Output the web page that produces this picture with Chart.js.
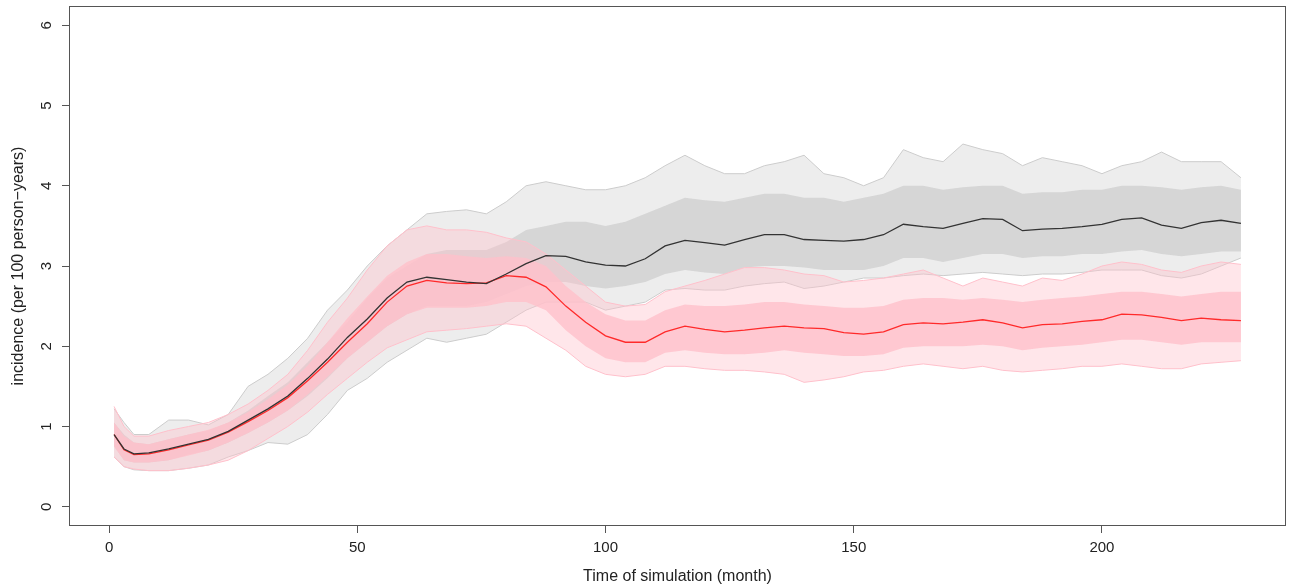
<!DOCTYPE html>
<html>
<head>
<meta charset="utf-8">
<script src="https://cdn.jsdelivr.net/npm/chart.js@4"></script>
<style>
  html, body { margin: 0; padding: 0; background: #fff; }
  #wrap { width: 1291px; height: 588px; }
</style>
</head>
<body>
<div id="wrap"><canvas id="incChart" width="1291" height="588"></canvas></div>
<script>
// months
const months = [1,3,5,8,12,16,20,24,28,32,36,40,44,48,52,56,60,64,68,72,76,80,84,88,92,96,100,104,108,112,116,120,124,128,132,136,140,144,148,152,156,160,164,168,172,176,180,184,188,192,196,200,204,208,212,216,220,224,228];

// mean curves
const blackMean = [0.90,0.72,0.66,0.67,0.72,0.78,0.84,0.94,1.08,1.22,1.38,1.60,1.84,2.11,2.34,2.60,2.80,2.86,2.83,2.80,2.78,2.90,3.03,3.13,3.12,3.05,3.01,3.00,3.09,3.25,3.32,3.29,3.26,3.33,3.39,3.39,3.33,3.32,3.31,3.33,3.39,3.52,3.49,3.47,3.53,3.59,3.58,3.44,3.46,3.47,3.49,3.52,3.58,3.60,3.51,3.47,3.54,3.57,3.53];
const redMean = [0.90,0.71,0.65,0.66,0.71,0.77,0.83,0.93,1.06,1.20,1.36,1.57,1.80,2.05,2.28,2.55,2.75,2.82,2.79,2.78,2.79,2.88,2.86,2.74,2.50,2.30,2.13,2.05,2.05,2.18,2.25,2.21,2.18,2.20,2.23,2.25,2.23,2.22,2.17,2.15,2.18,2.27,2.29,2.28,2.30,2.33,2.29,2.23,2.27,2.28,2.31,2.33,2.40,2.39,2.36,2.32,2.35,2.33,2.32];

// grey runs: outer envelope and dense core
const greyUpper = [1.22,1.05,0.90,0.90,1.08,1.08,1.02,1.15,1.50,1.65,1.85,2.10,2.45,2.70,3.00,3.25,3.45,3.65,3.68,3.70,3.65,3.80,4.00,4.05,4.00,3.95,3.95,4.00,4.10,4.25,4.38,4.25,4.15,4.15,4.25,4.30,4.38,4.15,4.10,4.00,4.10,4.45,4.35,4.30,4.52,4.45,4.40,4.25,4.35,4.30,4.25,4.15,4.25,4.30,4.42,4.30,4.30,4.30,4.10];
const greyCoreUpper = [1.05,0.90,0.80,0.78,0.84,0.90,0.95,1.05,1.20,1.38,1.55,1.80,2.05,2.30,2.60,2.85,3.00,3.15,3.20,3.20,3.20,3.30,3.45,3.50,3.55,3.55,3.50,3.55,3.65,3.75,3.85,3.82,3.80,3.85,3.90,3.90,3.85,3.85,3.80,3.85,3.90,4.00,4.00,3.95,3.98,4.00,4.00,3.90,3.92,3.92,3.95,3.95,4.00,4.00,3.98,3.95,3.98,4.00,3.95];
const greyCoreLower = [0.75,0.58,0.55,0.55,0.58,0.65,0.70,0.80,0.92,1.05,1.20,1.38,1.60,1.85,2.05,2.25,2.40,2.50,2.50,2.50,2.55,2.65,2.75,2.80,2.80,2.75,2.72,2.75,2.80,2.90,2.95,2.92,2.90,2.98,3.00,3.00,2.98,2.95,2.95,2.95,3.00,3.10,3.10,3.05,3.10,3.15,3.15,3.10,3.12,3.12,3.15,3.15,3.18,3.20,3.15,3.12,3.15,3.18,3.18];
const greyLower = [0.62,0.50,0.46,0.45,0.45,0.48,0.52,0.62,0.70,0.80,0.78,0.90,1.15,1.45,1.60,1.80,1.95,2.10,2.05,2.10,2.15,2.30,2.45,2.55,2.55,2.55,2.45,2.50,2.55,2.70,2.72,2.70,2.70,2.75,2.78,2.80,2.72,2.75,2.80,2.85,2.85,2.88,2.90,2.88,2.90,2.92,2.90,2.88,2.90,2.90,2.92,2.95,2.95,2.95,2.88,2.85,2.90,3.00,3.10];

// pink runs: outer envelope and dense core
const pinkUpper = [1.25,1.00,0.88,0.88,0.95,1.00,1.05,1.15,1.28,1.45,1.65,1.95,2.30,2.60,2.95,3.25,3.45,3.50,3.45,3.45,3.42,3.35,3.30,3.15,2.95,2.75,2.55,2.50,2.52,2.68,2.75,2.82,2.90,2.98,2.98,2.95,2.90,2.88,2.80,2.82,2.85,2.90,2.95,2.85,2.75,2.85,2.80,2.75,2.85,2.82,2.90,3.00,3.05,3.02,2.95,2.92,3.00,3.05,3.02];
const pinkCoreUpper = [1.05,0.88,0.80,0.78,0.84,0.90,0.96,1.05,1.18,1.34,1.52,1.76,2.05,2.35,2.62,2.88,3.05,3.15,3.15,3.12,3.10,3.12,3.10,3.00,2.75,2.55,2.40,2.32,2.32,2.45,2.52,2.50,2.50,2.52,2.55,2.55,2.52,2.50,2.48,2.48,2.50,2.58,2.60,2.60,2.58,2.60,2.58,2.55,2.58,2.60,2.62,2.65,2.68,2.68,2.65,2.62,2.65,2.68,2.68];
const pinkCoreLower = [0.75,0.58,0.55,0.55,0.58,0.64,0.70,0.80,0.92,1.05,1.20,1.40,1.62,1.85,2.05,2.25,2.40,2.48,2.48,2.48,2.50,2.55,2.55,2.45,2.20,2.00,1.85,1.80,1.80,1.92,1.95,1.92,1.90,1.90,1.92,1.95,1.92,1.90,1.88,1.88,1.90,1.98,2.00,2.00,2.00,2.02,2.00,1.95,1.98,2.00,2.02,2.05,2.08,2.08,2.05,2.02,2.05,2.05,2.05];
const pinkLower = [0.62,0.50,0.47,0.45,0.45,0.48,0.52,0.58,0.70,0.85,1.00,1.18,1.40,1.60,1.80,1.98,2.08,2.18,2.20,2.22,2.25,2.28,2.25,2.10,1.95,1.75,1.65,1.62,1.65,1.75,1.75,1.72,1.70,1.70,1.68,1.65,1.55,1.58,1.62,1.68,1.70,1.75,1.78,1.75,1.72,1.75,1.70,1.68,1.70,1.72,1.75,1.75,1.78,1.75,1.72,1.72,1.78,1.80,1.82];

const xTicks = [0, 50, 100, 150, 200];
const yTicks = [0, 1, 2, 3, 4, 5, 6];

const FONT = "'Liberation Sans', Arial, Helvetica, sans-serif";
const GREY = "rgb(204,204,204)";
const PINK = "rgb(255,192,203)";

function pts(ys) {
    return months.map((m, i) => ({ x: m, y: ys[i] }));
}

function band(ys, color, fillTo, fillColor, idx) {
    return {
        data: pts(ys),
        borderColor: color,
        borderWidth: 1,
        backgroundColor: fillColor || "transparent",
        fill: fillTo === undefined ? false : fillTo,
        pointRadius: 0,
        order: 20 - idx
    };
}

// box round the plot plus the rotated y tick labels (R style)
const rFrame = {
    id: "rFrame",
    afterDraw(chart) {
        const ctx = chart.ctx;
        const a = chart.chartArea;
        ctx.save();
        ctx.strokeStyle = "#555";
        ctx.lineWidth = 1;
        ctx.strokeRect(a.left + 0.5, a.top + 0.5, a.right - a.left - 1, a.bottom - a.top - 1);
        const ys = chart.scales.y;
        ctx.fillStyle = "#222";
        ctx.font = "15px " + FONT;
        ctx.textAlign = "center";
        ctx.textBaseline = "middle";
        yTicks.forEach(v => {
            ctx.save();
            ctx.translate(47, ys.getPixelForValue(v));
            ctx.rotate(-Math.PI / 2);
            ctx.fillText(String(v), 0, 0);
            ctx.restore();
        });
        ctx.restore();
    }
};

new Chart(document.getElementById("incChart"), {
    type: "line",
    data: {
        datasets: [
            band(greyUpper, GREY, 1, "rgba(204,204,204,0.35)", 0),
            band(greyLower, GREY, undefined, null, 1),
            band(greyCoreUpper, "rgba(204,204,204,0)", 3, "rgba(204,204,204,0.7)", 2),
            band(greyCoreLower, "rgba(204,204,204,0)", undefined, null, 3),
            band(pinkUpper, PINK, 5, "rgba(255,192,203,0.4)", 4),
            band(pinkLower, PINK, undefined, null, 5),
            band(pinkCoreUpper, "rgba(255,192,203,0)", 7, "rgba(255,192,203,0.8)", 6),
            band(pinkCoreLower, "rgba(255,192,203,0)", undefined, null, 7),
            {
                data: pts(redMean),
                borderColor: "#ff2a2a",
                borderWidth: 1.3,
                pointRadius: 0,
                fill: false,
                order: 2
            },
            {
                data: pts(blackMean),
                borderColor: "#333",
                borderWidth: 1.3,
                pointRadius: 0,
                fill: false,
                order: 1
            }
        ]
    },
    options: {
        responsive: false,
        animation: false,
        events: [],
        layout: { padding: { top: 6, right: 5, left: 0, bottom: 0 } },
        plugins: {
            legend: { display: false },
            tooltip: { enabled: false }
        },
        scales: {
            x: {
                type: "linear",
                min: -8.08,
                max: 237.08,
                afterBuildTicks: s => { s.ticks = xTicks.map(v => ({ value: v })); },
                afterFit: s => { s.height = 62; },
                border: { display: false },
                grid: {
                    drawOnChartArea: false,
                    drawTicks: true,
                    tickLength: 7,
                    color: "#555"
                },
                ticks: {
                    color: "#222",
                    font: { family: FONT, size: 15 },
                    padding: 6,
                    maxRotation: 0
                },
                title: {
                    display: true,
                    text: "Time of simulation (month)",
                    color: "#222",
                    font: { family: FONT, size: 16 },
                    padding: { top: 0, bottom: 1.5 }
                }
            },
            y: {
                type: "linear",
                min: -0.24,
                max: 6.24,
                afterBuildTicks: s => { s.ticks = yTicks.map(v => ({ value: v })); },
                afterFit: s => { s.width = 69; },
                border: { display: false },
                grid: {
                    drawOnChartArea: false,
                    drawTicks: true,
                    tickLength: 7,
                    color: "#555"
                },
                ticks: { display: false },
                title: {
                    display: true,
                    text: "incidence (per 100 person−years)",
                    color: "#222",
                    font: { family: FONT, size: 16 },
                    padding: { top: 8.5, bottom: 0 }
                }
            }
        }
    },
    plugins: [rFrame]
});
</script>
</body>
</html>
